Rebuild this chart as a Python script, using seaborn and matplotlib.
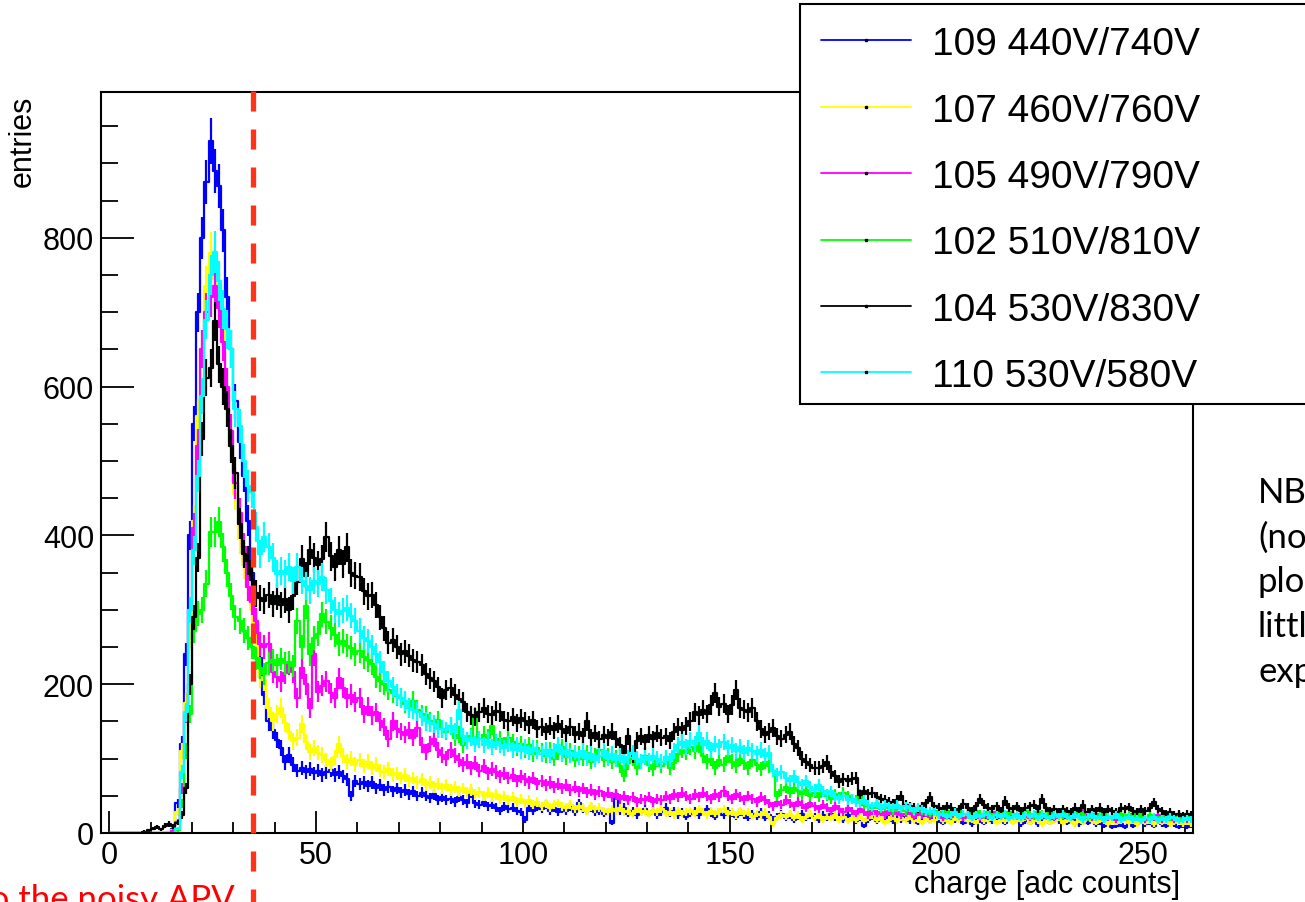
import numpy as np
import pandas as pd
import matplotlib
matplotlib.use("Agg")
import matplotlib.pyplot as plt
from matplotlib.lines import Line2D
from matplotlib.patches import Rectangle
from matplotlib.ticker import MultipleLocator
import seaborn as sns

# 262 bins of 1 adc count, from 0 to 262
bin_edges = np.arange(0, 263)

run_labels = ["109 440V/740V", "107 460V/760V", "105 490V/790V",
              "102 510V/810V", "104 530V/830V", "110 530V/580V"]
run_colors = ["#0000ff", "#ffff00", "#ff00ff", "#00ff00", "#000000", "#00ffff"]

run109 = [
    0, 0, 0, 0, 0, 0, 0, 0, 0, 0,
    0, 0, 0, 0, 1, 6, 40, 120, 240, 400,
    550, 700, 800, 875, 930, 890, 870, 810, 720, 650,
    580, 525, 480, 420, 350, 280, 235, 185, 150, 138,
    125, 114, 95, 105, 92, 84, 88, 82, 86, 80,
    84, 78, 82, 85, 78, 82, 76, 72, 50, 70,
    66, 68, 63, 68, 60, 64, 58, 62, 56, 60,
    55, 58, 52, 56, 50, 54, 50, 47, 52, 45,
    48, 44, 46, 42, 48, 44, 40, 55, 40, 38,
    42, 36, 38, 34, 30, 36, 32, 34, 30, 28,
    18, 34, 30, 36, 32, 38, 30, 34, 28, 32,
    30, 36, 28, 40, 32, 30, 34, 28, 30, 26,
    28, 14, 52, 30, 34, 26, 30, 24, 28, 32,
    26, 30, 24, 28, 34, 26, 30, 24, 28, 22,
    26, 30, 24, 28, 32, 26, 22, 28, 24, 30,
    26, 22, 28, 24, 20, 26, 22, 28, 20, 24,
    18, 22, 26, 20, 24, 18, 22, 26, 20, 24,
    22, 18, 24, 20, 26, 20, 22, 18, 24, 20,
    16, 20, 10, 18, 22, 16, 20, 18, 22, 16,
    20, 18, 22, 16, 20, 14, 18, 22, 16, 20,
    18, 14, 20, 16, 18, 22, 14, 18, 12, 16,
    18, 14, 20, 16, 22, 18, 14, 20, 16, 18,
    12, 16, 14, 18, 12, 16, 20, 14, 18, 16,
    20, 14, 18, 16, 12, 18, 14, 16, 12, 14,
    10, 12, 8, 10, 12, 8, 14, 10, 12, 16,
    12, 14, 10, 16, 12, 10, 14, 12, 8, 10,
    8, 10,
]

run107 = [
    0, 0, 0, 0, 0, 0, 0, 0, 0, 0,
    0, 0, 0, 0, 1, 4, 28, 110, 175, 265,
    420, 560, 650, 735, 780, 745, 715, 675, 595, 525,
    455, 395, 360, 330, 300, 255, 210, 205, 168, 150,
    160, 168, 148, 136, 123, 128, 146, 122, 109, 114,
    108, 105, 98, 92, 102, 119, 104, 96, 100, 92,
    98, 90, 96, 88, 92, 84, 82, 86, 78, 80,
    74, 78, 70, 74, 68, 72, 64, 68, 62, 66,
    60, 64, 58, 62, 56, 60, 54, 58, 52, 55,
    50, 54, 48, 52, 46, 50, 44, 48, 42, 46,
    40, 44, 38, 42, 36, 40, 34, 38, 40, 36,
    34, 38, 32, 36, 34, 30, 36, 32, 34, 30,
    28, 32, 30, 34, 28, 30, 26, 32, 28, 30,
    26, 30, 28, 32, 26, 28, 24, 30, 26, 28,
    30, 26, 32, 28, 24, 30, 26, 28, 32, 26,
    28, 24, 30, 26, 28, 22, 26, 24, 28, 22,
    12, 20, 24, 22, 26, 20, 24, 18, 22, 26,
    20, 24, 18, 22, 20, 24, 18, 22, 16, 20,
    18, 22, 16, 20, 24, 18, 20, 14, 18, 22,
    16, 20, 18, 22, 16, 18, 14, 20, 16, 18,
    22, 16, 18, 14, 20, 18, 22, 16, 18, 14,
    20, 16, 18, 22, 14, 18, 16, 20, 14, 18,
    16, 20, 14, 18, 16, 12, 18, 14, 16, 20,
    14, 18, 16, 12, 18, 14, 20, 16, 14, 18,
    16, 12, 18, 14, 16, 20, 14, 16, 12, 18,
    14, 16, 12, 18, 14, 16, 12, 14, 16, 12,
    14, 12,
]

run105 = [
    0, 0, 0, 0, 0, 0, 0, 0, 0, 0,
    0, 0, 0, 0, 0, 3, 15, 60, 160, 300,
    410, 520, 650, 700, 720, 735, 705, 660, 600, 540,
    470, 430, 384, 330, 310, 285, 254, 250, 254, 217,
    210, 204, 215, 227, 217, 181, 222, 200, 168, 240,
    190, 198, 204, 188, 181, 208, 195, 181, 186, 176,
    181, 160, 170, 158, 162, 150, 142, 127, 150, 140,
    136, 132, 138, 128, 141, 118, 109, 120, 127, 112,
    105, 100, 112, 104, 98, 92, 96, 88, 94, 84,
    90, 80, 86, 82, 76, 80, 74, 78, 70, 76,
    72, 68, 74, 66, 70, 64, 68, 62, 66, 60,
    64, 58, 62, 56, 60, 54, 58, 52, 56, 50,
    54, 48, 52, 46, 50, 44, 48, 42, 46, 44,
    48, 42, 46, 44, 50, 46, 52, 48, 54, 50,
    46, 52, 48, 54, 50, 46, 52, 48, 56, 50,
    46, 52, 48, 44, 50, 46, 42, 48, 44, 40,
    36, 42, 38, 44, 40, 36, 42, 38, 34, 40,
    36, 32, 38, 34, 30, 36, 32, 28, 34, 30,
    26, 32, 28, 24, 30, 26, 28, 24, 30, 26,
    28, 24, 26, 30, 22, 28, 24, 26, 22, 28,
    24, 20, 26, 22, 28, 24, 20, 26, 22, 24,
    20, 26, 22, 24, 28, 22, 26, 20, 24, 22,
    26, 22, 20, 24, 28, 22, 26, 24, 20, 24,
    22, 26, 20, 24, 22, 28, 24, 20, 26, 22,
    24, 20, 22, 18, 24, 20, 22, 26, 20, 22,
    18, 22, 20, 24, 18, 20, 22, 18, 24, 20,
    18, 20,
]

run102 = [
    0, 0, 0, 0, 0, 0, 0, 0, 0, 0,
    0, 0, 0, 0, 0, 0, 4, 40, 110, 160,
    272, 295, 300, 335, 405, 405, 418, 384, 350, 318,
    290, 285, 272, 262, 250, 235, 222, 214, 228, 232,
    226, 234, 228, 230, 224, 285, 250, 305, 240, 262,
    268, 294, 284, 276, 266, 254, 258, 252, 249, 240,
    244, 236, 232, 227, 210, 204, 200, 192, 188, 184,
    181, 174, 168, 177, 166, 160, 158, 150, 146, 152,
    140, 136, 144, 128, 132, 118, 124, 130, 157, 126,
    132, 128, 144, 122, 126, 118, 128, 122, 114, 120,
    112, 118, 106, 114, 110, 104, 112, 100, 108, 116,
    102, 110, 98, 106, 100, 108, 96, 104, 112, 98,
    104, 96, 102, 90, 77, 94, 100, 88, 96, 104,
    92, 86, 98, 90, 102, 88, 94, 106, 112, 108,
    116, 110, 118, 104, 96, 100, 88, 98, 92, 104,
    96, 90, 100, 94, 88, 98, 92, 86, 96, 90,
    84, 50, 58, 62, 54, 60, 56, 52, 58, 50,
    54, 48, 56, 50, 46, 52, 48, 54, 50, 46,
    44, 52, 38, 36, 34, 38, 32, 36, 34, 30,
    34, 32, 30, 36, 28, 32, 30, 28, 26, 30,
    28, 26, 30, 24, 28, 32, 26, 24, 28, 30,
    26, 24, 28, 22, 26, 30, 24, 28, 26, 22,
    26, 30, 24, 22, 28, 26, 24, 30, 22, 26,
    24, 28, 22, 26, 30, 24, 20, 26, 22, 24,
    28, 22, 20, 24, 26, 22, 24, 20, 26, 22,
    20, 24, 22, 18, 22, 26, 20, 22, 18, 20,
    22, 20,
]

run104 = [
    0, 0, 0, 0, 0, 0, 0, 0, 2, 4,
    6, 8, 5, 10, 12, 9, 14, 24, 60, 200,
    290, 370, 530, 612, 625, 688, 630, 600, 570, 520,
    484, 416, 375, 366, 340, 322, 316, 312, 320, 308,
    318, 306, 314, 300, 318, 338, 368, 346, 380, 370,
    360, 368, 398, 372, 358, 380, 362, 384, 350, 346,
    344, 325, 318, 320, 306, 290, 275, 256, 260, 250,
    240, 244, 238, 232, 230, 226, 214, 208, 204, 196,
    182, 192, 195, 186, 180, 176, 162, 158, 156, 162,
    168, 160, 158, 164, 162, 152, 150, 156, 148, 154,
    150, 145, 152, 140, 142, 136, 144, 138, 146, 140,
    134, 142, 132, 136, 130, 150, 128, 134, 126, 132,
    128, 136, 126, 118, 108, 130, 104, 124, 130, 122,
    132, 126, 134, 128, 130, 124, 136, 142, 138, 144,
    150, 162, 158, 166, 160, 172, 188, 170, 174, 160,
    172, 192, 168, 166, 162, 168, 150, 140, 132, 136,
    141, 130, 127, 132, 136, 120, 114, 100, 96, 91,
    88, 87, 90, 95, 82, 76, 69, 72, 70, 73,
    74, 51, 56, 52, 54, 48, 46, 44, 42, 40,
    44, 50, 38, 36, 34, 32, 36, 40, 48, 36,
    34, 32, 36, 34, 30, 32, 39, 34, 30, 36,
    46, 38, 34, 32, 36, 30, 43, 34, 32, 36,
    30, 34, 36, 38, 32, 46, 34, 30, 32, 28,
    32, 30, 28, 34, 30, 38, 28, 32, 30, 34,
    28, 32, 30, 28, 34, 32, 35, 30, 28, 32,
    30, 34, 41, 32, 30, 26, 28, 24, 26, 23,
    26, 24,
]

run110 = [
    0, 0, 0, 0, 0, 0, 0, 0, 0, 0,
    0, 0, 0, 0, 0, 0, 6, 82, 162, 300,
    380, 480, 587, 690, 750, 781, 742, 704, 677, 650,
    570, 547, 500, 466, 458, 411, 375, 398, 384, 370,
    348, 352, 348, 357, 339, 357, 339, 332, 326, 339,
    335, 344, 326, 312, 300, 294, 299, 303, 292, 285,
    272, 262, 258, 250, 240, 230, 217, 204, 196, 186,
    181, 177, 168, 166, 163, 156, 150, 148, 146, 140,
    140, 138, 144, 136, 165, 130, 124, 128, 120, 126,
    118, 124, 116, 122, 118, 114, 120, 112, 118, 110,
    116, 108, 114, 110, 106, 112, 104, 110, 118, 106,
    112, 104, 108, 102, 110, 100, 106, 98, 104, 110,
    100, 106, 98, 104, 96, 102, 108, 100, 96, 102,
    98, 104, 100, 96, 102, 98, 110, 118, 122, 116,
    124, 120, 134, 118, 124, 112, 120, 116, 122, 114,
    118, 110, 116, 108, 114, 110, 106, 112, 104, 108,
    84, 78, 82, 74, 70, 76, 68, 64, 70, 62,
    58, 64, 56, 52, 56, 48, 46, 50, 44, 46,
    42, 40, 44, 38, 36, 40, 34, 38, 36, 34,
    38, 32, 36, 34, 30, 34, 32, 28, 30, 28,
    24, 26, 22, 24, 28, 22, 26, 24, 20, 24,
    22, 26, 24, 20, 24, 22, 26, 20, 22, 24,
    20, 24, 22, 26, 20, 24, 22, 20, 24, 22,
    26, 22, 20, 24, 22, 18, 22, 24, 20, 22,
    18, 22, 20, 24, 18, 20, 22, 18, 20, 16,
    20, 18, 22, 16, 20, 18, 22, 20, 16, 18,
    20, 18,
]

runs = [run109, run107, run105, run102, run104, run110]
for r in runs:
    assert len(r) == len(bin_edges) - 1, len(r)

W, H = 1305, 903

sns.set_theme(style="white", rc={
    "axes.edgecolor": "black", "axes.labelcolor": "black",
    "xtick.color": "black", "ytick.color": "black", "text.color": "black",
})
plt.rcParams["font.family"] = ["Liberation Sans", "DejaVu Sans"]

fig = plt.figure(figsize=(W / 100, H / 100), dpi=100)
ax = fig.add_axes([101 / W, 69 / H, 1092 / W, 741 / H])

centers = (bin_edges[:-1] + bin_edges[1:]) / 2
for counts, color in zip(runs, run_colors):
    df = pd.DataFrame({"charge": centers, "entries": np.asarray(counts, dtype=float)})
    sns.histplot(data=df, x="charge", weights="entries", binwidth=1,
                 binrange=(bin_edges[0], bin_edges[-1]),
                 element="step", fill=False, color=color, linewidth=1.6, ax=ax)
    ax.errorbar(df["charge"], df["entries"], yerr=np.sqrt(df["entries"]),
                fmt="none", ecolor=color, elinewidth=1.6, capsize=0)

ax.set_xlim(-2, 262)
ax.set_ylim(0, 996)
ax.xaxis.set_major_locator(MultipleLocator(50))
ax.xaxis.set_minor_locator(MultipleLocator(10))
ax.yaxis.set_major_locator(MultipleLocator(200))
ax.yaxis.set_minor_locator(MultipleLocator(50))
ax.tick_params(which="both", direction="in", bottom=True, left=True,
               top=False, right=False, width=1.3, labelsize=22)
ax.tick_params(axis="x", which="major", length=16, pad=5)
ax.tick_params(axis="x", which="minor", length=8)
ax.tick_params(axis="y", which="major", length=24, pad=5)
ax.tick_params(axis="y", which="minor", length=12)
for sp in ax.spines.values():
    sp.set_linewidth(1.5)
    sp.set_color("black")

ax.set_xlabel("charge [adc counts]", fontsize=22, loc="right")
ax.xaxis.set_label_coords(0.988, -0.049)
ax.set_ylabel("entries", fontsize=22, loc="top")
ax.yaxis.set_label_coords(-0.058, 0.997)

# red dashed cut line
fig.add_artist(Line2D([252.5 / W, 252.5 / W], [1 - 92 / H, -0.02],
                      color="#ff3318", lw=3.8, dashes=(3.8, 3.4)))

# legend box, running off the top right of the slide
fig.add_artist(Rectangle((800 / W, 1 - 405 / H), 0.45, 400 / H,
                         transform=fig.transFigure, facecolor="white",
                         edgecolor="black", lw=1.5, zorder=5))
baselines = [55, 121.5, 188, 254.5, 321, 387]
for label, color, base in zip(run_labels, run_colors, baselines):
    ly = 1 - (base - 14) / H
    fig.add_artist(Line2D([821 / W, 911 / W], [ly, ly], color=color,
                          lw=1.3, zorder=6))
    fig.add_artist(Line2D([866 / W], [ly], marker="s", ms=2, color="black",
                          lw=0, zorder=7))
    fig.text(932 / W, 1 - base / H, label, fontsize=28, va="baseline",
             zorder=7)

# slide annotations, cut by the slide edges as in the original slide
fig.text(235 / W, -0.0073, "due to the noisy APV", color="#ff0000",
         fontsize=25, family=["Lato", "DejaVu Sans"], ha="right",
         va="baseline")
nb_lines = ["NB:", "(not", "plots", "little", "expected"]
nb_base = [503, 548, 592, 637, 682]
for line, base in zip(nb_lines, nb_base):
    fig.text(1258 / W, 1 - base / H, line, fontsize=25,
             family=["Lato", "DejaVu Sans"], va="baseline")

fig.savefig("out.png", dpi=100)
